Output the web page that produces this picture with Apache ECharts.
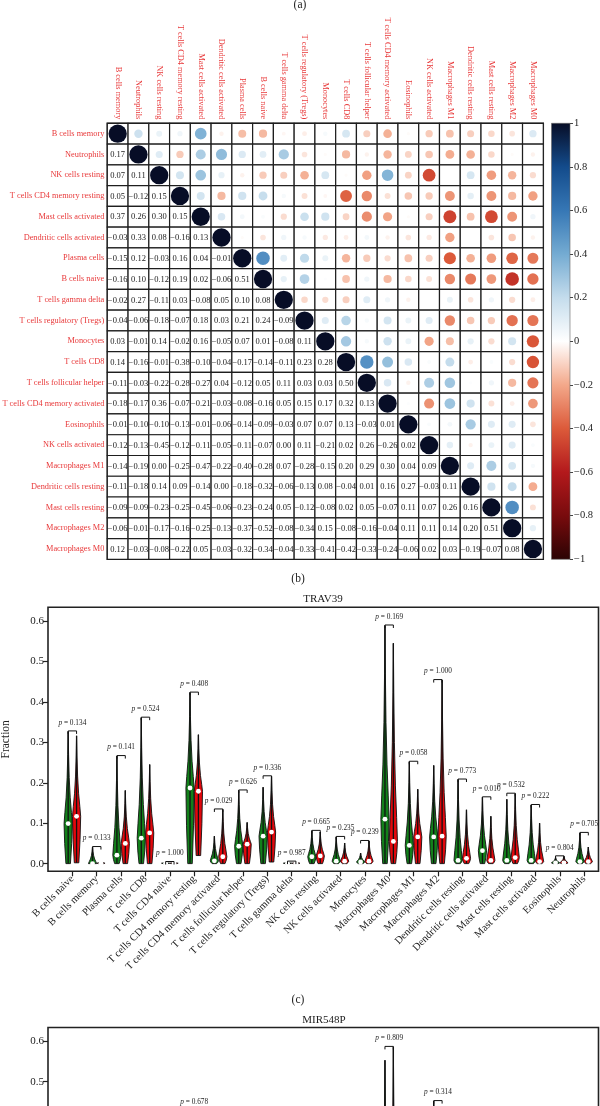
<!DOCTYPE html>
<html><head><meta charset="utf-8">
<script src="https://cdn.jsdelivr.net/npm/echarts@6/dist/echarts.min.js"></script>
<style>html,body{margin:0;padding:0;background:#fff}#c{width:600px;height:1106px}</style>
</head><body><div id="c"></div>
<script>
// ---------- (a) correlation matrix data ----------
const cellTypes = ['B cells memory','Neutrophils','NK cells resting','T cells CD4 memory resting','Mast cells activated','Dendritic cells activated','Plasma cells','B cells naive','T cells gamma delta','T cells regulatory (Tregs)','Monocytes','T cells CD8','T cells follicular helper','T cells CD4 memory activated','Eosinophils','NK cells activated','Macrophages M1','Dendritic cells resting','Mast cells resting','Macrophages M2','Macrophages M0'];
const corrLower = [
 [],
 [0.17],
 [0.07,0.11],
 [0.05,-0.12,0.15],
 [0.37,0.26,0.30,0.15],
 [-0.03,0.33,0.08,-0.16,0.13],
 [-0.15,0.12,-0.03,0.16,0.04,-0.01],
 [-0.16,0.10,-0.12,0.19,0.02,-0.06,0.51],
 [-0.02,0.27,-0.11,0.03,-0.08,0.05,0.10,0.08],
 [-0.04,-0.06,-0.18,-0.07,0.18,0.03,0.21,0.24,-0.09],
 [0.03,-0.01,0.14,-0.02,0.16,-0.05,0.07,0.01,-0.08,0.11],
 [0.14,-0.16,-0.01,-0.38,-0.10,-0.04,-0.17,-0.14,-0.11,0.23,0.28],
 [-0.11,-0.03,-0.22,-0.28,-0.27,0.04,-0.12,0.05,0.11,0.03,0.03,0.50],
 [-0.18,-0.17,0.36,-0.07,-0.21,-0.03,-0.08,-0.16,0.05,0.15,0.17,0.32,0.13],
 [-0.01,-0.10,-0.10,-0.13,-0.01,-0.06,-0.14,-0.09,-0.03,0.07,0.07,0.13,-0.03,0.01],
 [-0.12,-0.13,-0.45,-0.12,-0.11,-0.05,-0.11,-0.07,0.00,0.11,-0.21,0.02,0.26,-0.26,0.02],
 [-0.14,-0.19,0.00,-0.25,-0.47,-0.22,-0.40,-0.28,0.07,-0.28,-0.15,0.20,0.29,0.30,0.04,0.09],
 [-0.11,-0.18,0.14,0.09,-0.14,0.00,-0.18,-0.32,-0.06,-0.13,0.08,-0.04,0.01,0.16,0.27,-0.03,0.11],
 [-0.09,-0.09,-0.23,-0.25,-0.45,-0.06,-0.23,-0.24,0.05,-0.12,-0.08,0.02,0.05,-0.07,0.11,0.07,0.26,0.16],
 [-0.06,-0.01,-0.17,-0.16,-0.25,-0.13,-0.37,-0.52,-0.08,-0.34,0.15,-0.08,-0.16,-0.04,0.11,0.11,0.14,0.20,0.51],
 [0.12,-0.03,-0.08,-0.22,0.05,-0.03,-0.32,-0.34,-0.04,-0.33,-0.41,-0.42,-0.33,-0.24,-0.06,0.02,0.03,-0.19,-0.07,0.08]
];
const colorbarStopValues = [-1,-0.8,-0.6,-0.4,-0.2,0,0.2,0.4,0.6,0.8,1];
const colorbarStopColors = ['#2b0304','#780b0d','#b3191c','#dc5a3a','#f3a88a','#ffffff','#c4dcec','#74abd2','#3677b5','#134b8b','#070d26'];

// ---------- (b) TRAV39 violin data ----------
const violinCats = ['B cells naive','B cells memory','Plasma cells','T cells CD8','T cells CD4 naive','T cells CD4 memory resting','T cells CD4 memory activated','T cells follicular helper','T cells regulatory (Tregs)','T cells gamma delta','NK cells resting','NK cells activated','Monocytes','Macrophages M0','Macrophages M1','Macrophages M2','Dendritic cells resting','Dendritic cells activated','Mast cells resting','Mast cells activated','Eosinophils','Neutrophils'];
const travGreenMax = [0.327,0.041,0.266,0.361,0.004,0.423,0.068,0.181,0.189,0.005,0.081,0.066,0.026,0.589,0.252,0.243,0.208,0.164,0.159,0.145,0.015,0.076];
const travRedMax   = [0.316,0.006,0.181,0.245,0.004,0.319,0.134,0.102,0.216,0.004,0.078,0.051,0.056,0.545,0.184,0.454,0.133,0.117,0.173,0.100,0.018,0.041];
const travGreenMed = [0.099,0.000,0.021,0.063,0.001,0.187,0.007,0.043,0.068,0.001,0.017,0.006,0.004,0.110,0.045,0.066,0.008,0.032,0.008,0.008,0.002,0.005];
const travRedMed   = [0.117,0.001,0.050,0.076,0.001,0.179,0.017,0.048,0.078,0.001,0.019,0.006,0.006,0.055,0.066,0.068,0.013,0.008,0.015,0.005,0.002,0.005];
const travGreenMin = [0,0,0,0,0,0,0,0,0,0,0,0,0,0,0,0,0,0,0,0,0,0];
const travRedMin   = [0.002,0,0,0,0,0.020,0,0,0.004,0,0,0,0,0,0,0,0,0,0,0,0,0];
const travP = ['0.134','0.133','0.141','0.524','1.000','0.408','0.029','0.626','0.336','0.987','0.665','0.235','0.239','0.169','0.058','1.000','0.773','0.010','0.532','0.222','0.804','0.705'];

// ---------- (c) MIR548P violin data (only the visible top part) ----------
const mirGreenMax = [null,null,null,null,null,0.428,null,null,null,null,null,null,null,0.553,null,0.452,null,null,null,null,null,null];
const mirRedMax   = [null,null,null,null,null,0.320,null,null,null,null,null,null,null,0.586,null,0.400,null,null,null,null,null,null];
const mirGreenMed = [null,null,null,null,null,0.180,null,null,null,null,null,null,null,0.090,null,0.070,null,null,null,null,null,null];
const mirRedMed   = [null,null,null,null,null,0.180,null,null,null,null,null,null,null,0.070,null,0.070,null,null,null,null,null,null];
const mirP = [null,null,null,null,null,'0.678',null,null,null,null,null,null,null,'0.809',null,'0.314',null,null,null,null,null,null];

const yTicks = [0,0.1,0.2,0.3,0.4,0.5,0.6];
const catTicks = violinCats.map((_, i) => i);

const SERIF = '"Liberation Serif", "DejaVu Serif", serif';
const LABEL_RED = '#e8393a';

function hexToRgb(h){return [parseInt(h.slice(1,3),16),parseInt(h.slice(3,5),16),parseInt(h.slice(5,7),16)];}
function corrColor(v){
  const s = colorbarStopValues, c = colorbarStopColors;
  if (v <= s[0]) return c[0];
  for (let k = 1; k < s.length; k++){
    if (v <= s[k]){
      const t = (v - s[k-1])/(s[k]-s[k-1]);
      const a = hexToRgb(c[k-1]), b = hexToRgb(c[k]);
      return 'rgb(' + a.map((x,j)=>Math.round(x+(b[j]-x)*t)).join(',') + ')';
    }
  }
  return c[c.length-1];
}
function fmtCorr(v){ return v.toFixed(2).replace('-', '\u2212'); }

const matrixData = [];
for (let r = 0; r < cellTypes.length; r++){
  for (let c = 0; c < cellTypes.length; c++){
    const v = r === c ? 1 : (r > c ? corrLower[r][c] : corrLower[c][r]);
    matrixData.push([c, r, v]);
  }
}

function matrixItem(params, api){
  const c = api.value(0), r = api.value(1), v = api.value(2);
  const p = api.coord([c, r]); const s = api.size([1, 1]);
  const kids = [{type:'rect', shape:{x:p[0]-s[0]/2, y:p[1]-s[1]/2, width:s[0], height:s[1]},
    style:{fill:'#fff', stroke:'#1e1e1e', lineWidth:1.2}}];
  if (c >= r){
    const rad = 0.75 + 8.4*Math.sqrt(Math.abs(v));
    kids.push({type:'circle', shape:{cx:p[0], cy:p[1], r:rad}, style:{fill:corrColor(v)}});
  } else {
    kids.push({type:'text', x:p[0], y:p[1]+0.5, style:{text:fmtCorr(v), fill:'#1a1a1a', fontSize:8.5, fontFamily:SERIF,
      textAlign:'center', align:'center', textVerticalAlign:'middle', verticalAlign:'middle'}});
  }
  return {type:'group', children:kids};
}

function colorbarItem(params, api){
  const cs = params.coordSys;
  const stops = colorbarStopValues.map((v, k) => ({offset:(1 - v)/2, color:colorbarStopColors[k]})).sort((a,b)=>a.offset-b.offset);
  return {type:'rect', shape:{x:cs.x, y:cs.y, width:cs.width, height:cs.height},
    style:{fill:new echarts.graphic.LinearGradient(0,0,0,1,stops), stroke:'#666', lineWidth:0.6}};
}

const GREEN = '#12801a', RED = '#e2070c';
function buildViolins(gMax, rMax, gMed, rMed, gMin, rMin){
  const out = [];
  for (let i = 0; i < violinCats.length; i++){
    if (gMax[i] == null) continue;
    out.push([i, -1, gMin ? gMin[i] : 0, gMed[i], gMax[i]]);
    out.push([i, 1, rMin ? rMin[i] : 0, rMed[i], rMax[i]]);
  }
  return out;
}
function violinItem(params, api){
  const i = api.value(0), side = api.value(1), vmin = api.value(2), med = api.value(3), vmax = api.value(4);
  const cx = api.coord([i, 0])[0] + side*4.2;
  const Y = v => api.coord([i, v])[1];
  const HW = 4.1;
  const prof = [];
  [[0,0.55],[0.5,0.85],[1,1]].forEach(([t,w]) => prof.push([vmin + t*(med-vmin), w]));
  [[0.12,0.8],[0.28,0.5],[0.5,0.25],[0.75,0.1],[1,0]].forEach(([t,w]) => prof.push([med + t*(vmax-med), w]));
  const left = prof.map(([v,w]) => [cx - w*HW, Y(v)]);
  const right = prof.slice().reverse().map(([v,w]) => [cx + w*HW, Y(v)]);
  const pts = left.concat(right);
  const m = api.coord([i, med])[1];
  return {type:'group', children:[
    {type:'polygon', shape:{points:pts}, style:{fill: side < 0 ? GREEN : RED, stroke:'#111', lineWidth:0.9}},
    {type:'line', shape:{x1:cx, y1:Y(vmin), x2:cx, y2:Y(vmax)}, style:{stroke:'#111', lineWidth:1.3}},
    {type:'circle', shape:{cx:cx, cy:m, r:2.4}, style:{fill:'#fff'}}
  ]};
}
function buildBrackets(gMax, rMax, pv){
  const out = [];
  for (let i = 0; i < violinCats.length; i++){
    if (gMax[i] == null || pv[i] == null) continue;
    out.push([i, gMax[i], rMax[i]]);
  }
  return out;
}
function makeBracketItem(pv){
  return function(params, api){
    const i = api.value(0), g = api.value(1), r = api.value(2);
    const top = Math.max(g, r);
    const gx = api.coord([i, 0])[0] - 4.2, rx = gx + 8.4;
    const yt = api.coord([i, top])[1] - 0.5;
    return {type:'group', children:[
      {type:'polyline', shape:{points:[[gx, yt+3],[gx, yt],[rx, yt],[rx, yt+3]]}, style:{stroke:'#111', lineWidth:1, fill:null}},
      {type:'text', x:(gx+rx)/2, y:yt-4.5, style:{text:'{i|p} = ' + pv[i], fill:'#222', fontSize:7.3, fontFamily:SERIF,
        rich:{i:{fontStyle:'italic', fontSize:7.3, fontFamily:SERIF, fill:'#222'}},
        textAlign:'center', align:'center', textVerticalAlign:'bottom', verticalAlign:'bottom'}}
    ]};
  };
}

function violinX(gi, showLabels){
  return {type:'value', gridIndex:gi, min:-1, max:21.59,
    axisLine:{show:false, onZero:false}, splitLine:{show:false},
    axisTick:{show:true, customValues:catTicks, length:5, lineStyle:{color:'#222', width:1.2}},
    axisLabel:{show:showLabels, customValues:catTicks, formatter:v => violinCats[Math.round(v)], rotate:45, margin:6,
      fontSize:10.5, fontFamily:SERIF, color:'#222'}};
}
function violinY(gi){
  return {type:'value', gridIndex:gi, min:-0.019, max:0.634,
    name:'Fraction', nameLocation:'middle', nameGap:36, nameRotate:90,
    nameTextStyle:{fontSize:11.5, fontFamily:SERIF, color:'#222'},
    axisLine:{show:false, onZero:false}, splitLine:{show:false},
    axisTick:{show:true, customValues:yTicks, length:5, lineStyle:{color:'#222', width:1.2}},
    axisLabel:{customValues:yTicks, formatter:v => v.toFixed(1), margin:4, fontSize:11, fontFamily:SERIF, color:'#222'}};
}

const chart = echarts.init(document.getElementById('c'), null, {renderer:'canvas'});
chart.setOption({
  animation:false,
  backgroundColor:'#fff',
  grid:[
    {left:107.3, top:123.3, width:436, height:436, show:true, borderColor:'#1e1e1e', borderWidth:1.5, backgroundColor:'transparent', outerBoundsMode:'none', containLabel:false},
    {left:551.5, top:123.3, width:18.5, height:436, outerBoundsMode:'none', containLabel:false},
    {left:48, top:607.3, width:550.5, height:264, show:true, borderColor:'#222', borderWidth:1.6, outerBoundsMode:'none', containLabel:false},
    {left:48, top:1027.5, width:550.5, height:264, show:true, borderColor:'#222', borderWidth:1.6, outerBoundsMode:'none', containLabel:false}
  ],
  xAxis:[
    {type:'category', gridIndex:0, data:cellTypes, position:'top', axisLine:{show:false}, axisTick:{show:false}, splitLine:{show:false},
      axisLabel:{rotate:90, interval:0, margin:4, color:LABEL_RED, fontSize:8.3, fontFamily:SERIF}},
    {type:'category', gridIndex:1, data:[''], show:false},
    violinX(2, true),
    violinX(3, true)
  ],
  yAxis:[
    {type:'category', gridIndex:0, data:cellTypes, inverse:true, axisLine:{show:false}, axisTick:{show:false}, splitLine:{show:false},
      axisLabel:{interval:0, margin:3, color:LABEL_RED, fontSize:8.3, fontFamily:SERIF}},
    {type:'value', gridIndex:1, min:-1, max:1, interval:0.2, position:'right', axisLine:{show:false}, splitLine:{show:false},
      axisTick:{show:true, length:3, lineStyle:{color:'#444'}},
      axisLabel:{margin:4, fontSize:10.5, fontFamily:SERIF, color:'#222',
        formatter:v => { const r = Math.round(v*10)/10; if (r === 0) return '0'; const s = Math.abs(r) === 1 ? '1' : Math.abs(r).toFixed(1); return (r < 0 ? '\u2212' : '') + s; }}},
    violinY(2),
    violinY(3)
  ],
  series:[
    {type:'custom', xAxisIndex:0, yAxisIndex:0, data:matrixData, renderItem:matrixItem, silent:true},
    {type:'custom', xAxisIndex:1, yAxisIndex:1, data:[[0, 0]], renderItem:colorbarItem, silent:true},
    {type:'custom', xAxisIndex:2, yAxisIndex:2, clip:true, silent:true,
      data:buildViolins(travGreenMax, travRedMax, travGreenMed, travRedMed, travGreenMin, travRedMin), renderItem:violinItem},
    {type:'custom', xAxisIndex:2, yAxisIndex:2, silent:true,
      data:buildBrackets(travGreenMax, travRedMax, travP), renderItem:makeBracketItem(travP)},
    {type:'custom', xAxisIndex:3, yAxisIndex:3, clip:true, silent:true,
      data:buildViolins(mirGreenMax, mirRedMax, mirGreenMed, mirRedMed, null, null), renderItem:violinItem},
    {type:'custom', xAxisIndex:3, yAxisIndex:3, silent:true,
      data:buildBrackets(mirGreenMax, mirRedMax, mirP), renderItem:makeBracketItem(mirP)}
  ],
  graphic:[
    {type:'text', x:300, y:5, style:{text:'(a)', fontSize:11.5, fontFamily:SERIF, fill:'#222', textAlign:'center', textVerticalAlign:'middle'}},
    {type:'text', x:298, y:579, style:{text:'(b)', fontSize:11.5, fontFamily:SERIF, fill:'#222', textAlign:'center', textVerticalAlign:'middle'}},
    {type:'text', x:323, y:599, style:{text:'TRAV39', fontSize:11, fontFamily:SERIF, fill:'#222', textAlign:'center', textVerticalAlign:'middle'}},
    {type:'text', x:298, y:1000, style:{text:'(c)', fontSize:11.5, fontFamily:SERIF, fill:'#222', textAlign:'center', textVerticalAlign:'middle'}},
    {type:'text', x:324, y:1020, style:{text:'MIR548P', fontSize:11, fontFamily:SERIF, fill:'#222', textAlign:'center', textVerticalAlign:'middle'}}
  ]
});
</script>
</body></html>
